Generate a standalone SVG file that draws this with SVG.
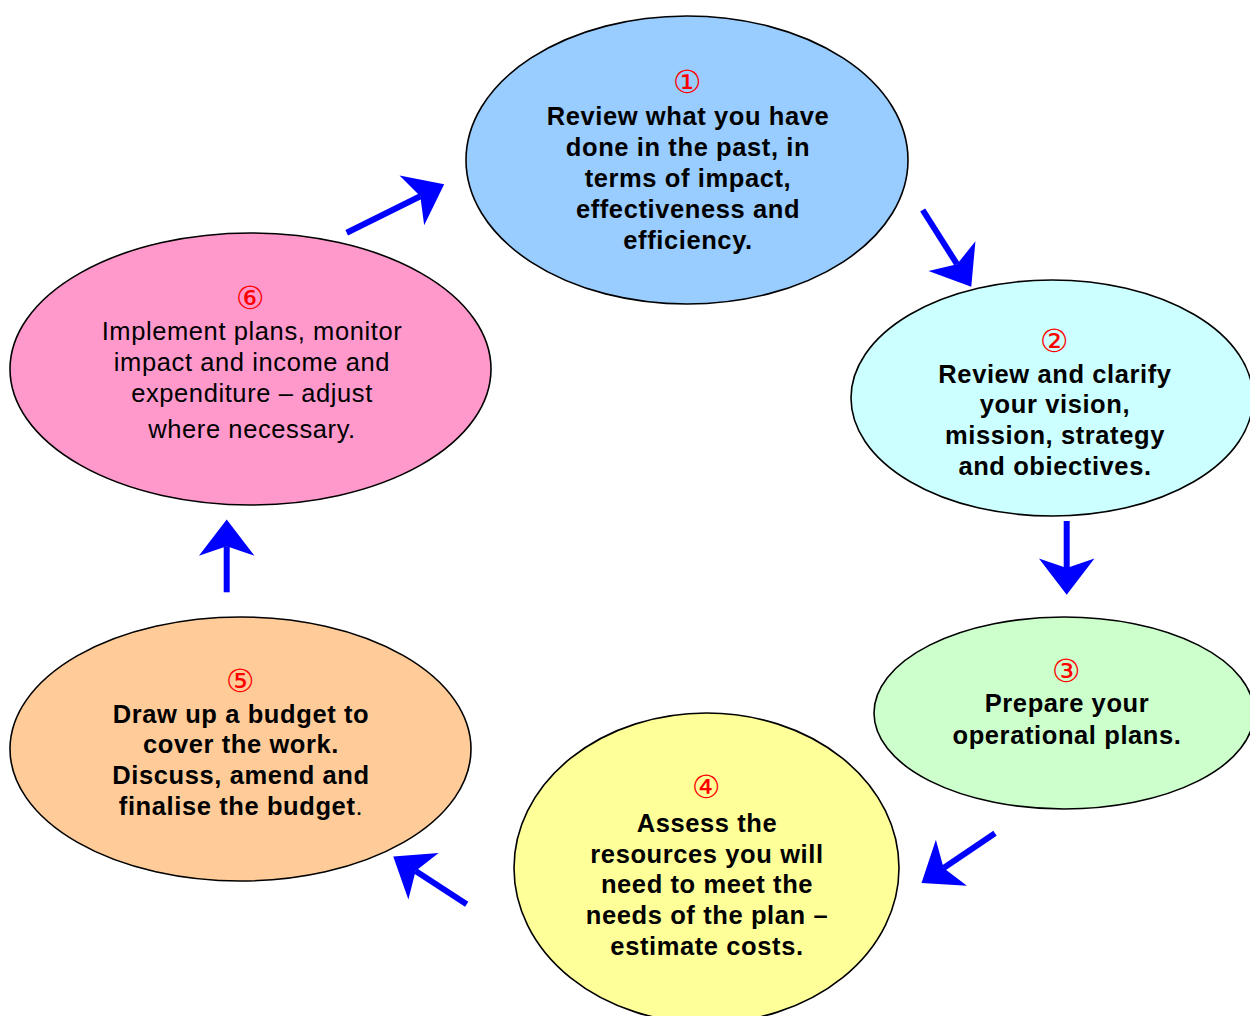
<svg xmlns="http://www.w3.org/2000/svg" width="1250" height="1016" viewBox="0 0 1250 1016">
<style>
.node ellipse{stroke:#000;stroke-width:1.6}
.t{font-family:"Liberation Sans",Arial,sans-serif;font-size:25.5px;letter-spacing:0.6px;text-anchor:middle;fill:#000}
.b{font-weight:bold}
.n{font-family:"DejaVu Sans",sans-serif;font-size:32px;fill:#f00;text-anchor:middle}
.arrow{stroke:#00f;stroke-width:6;fill:none;marker-end:url(#head)}
</style>
<defs>
<marker id="head" markerUnits="userSpaceOnUse" markerWidth="60" markerHeight="60" viewBox="-10 -27 36 54" refX="0" refY="0" orient="auto" overflow="visible">
<path d="M24,0 L-8.5,-25 L0,0 L-8.5,25 Z" fill="#00f"/>
</marker>
</defs>
<rect width="1250" height="1016" fill="#fff"/>
<g id="connectors">
<line class="arrow" x1="346.7" y1="232.7" x2="420.3" y2="196.2"/>
<line class="arrow" x1="922.7" y1="210" x2="957" y2="264.2"/>
<line class="arrow" x1="1066.7" y1="521" x2="1066.7" y2="568"/>
<line class="arrow" x1="995" y1="833.3" x2="943.6" y2="868"/>
<line class="arrow" x1="466.7" y1="904.3" x2="415.6" y2="871.1"/>
<line class="arrow" x1="226.7" y1="592.3" x2="226.7" y2="546.2"/>
</g>
<g id="node1" class="node">
<ellipse cx="687" cy="160" rx="221" ry="144" fill="#99CCFF"/>
<text class="n" x="687" y="93">①</text>
<text class="t b" x="688" y="125">Review what you have</text>
<text class="t b" x="688" y="156">done in the past, in</text>
<text class="t b" x="688" y="187">terms of impact,</text>
<text class="t b" x="688" y="218">effectiveness and</text>
<text class="t b" x="688" y="249">efficiency.</text>
</g>
<g id="node2" class="node">
<ellipse cx="1052" cy="398" rx="201" ry="118" fill="#CCFFFF"/>
<text class="n" x="1054" y="352">②</text>
<text class="t b" x="1055" y="383">Review and clarify</text>
<text class="t b" x="1055" y="413">your vision,</text>
<text class="t b" x="1055" y="444">mission, strategy</text>
<text class="t b" x="1055" y="475">and obiectives.</text>
</g>
<g id="node3" class="node">
<ellipse cx="1064" cy="713" rx="190" ry="96" fill="#CCFFCC"/>
<text class="n" x="1066" y="682">③</text>
<text class="t b" x="1067" y="712">Prepare your</text>
<text class="t b" x="1067" y="744">operational plans.</text>
</g>
<g id="node4" class="node">
<ellipse cx="706.5" cy="868" rx="192.5" ry="155" fill="#FFFF99"/>
<text class="n" x="706" y="798">④</text>
<text class="t b" x="707" y="832">Assess the</text>
<text class="t b" x="707" y="863">resources you will</text>
<text class="t b" x="707" y="893">need to meet the</text>
<text class="t b" x="707" y="924">needs of the plan –</text>
<text class="t b" x="707" y="955">estimate costs.</text>
</g>
<g id="node5" class="node">
<ellipse cx="240.5" cy="749" rx="230.5" ry="132" fill="#FFCC99"/>
<text class="n" x="240" y="692">⑤</text>
<text class="t b" x="241" y="723">Draw up a budget to</text>
<text class="t b" x="241" y="753">cover the work.</text>
<text class="t b" x="241" y="784">Discuss, amend and</text>
<text class="t" x="241" y="815"><tspan class="b">finalise the budget</tspan>.</text>
</g>
<g id="node6" class="node">
<ellipse cx="250.5" cy="369" rx="240.5" ry="136" fill="#FF99CC"/>
<text class="n" x="250" y="309">⑥</text>
<text class="t" x="252" y="340">Implement plans, monitor</text>
<text class="t" x="252" y="371">impact and income and</text>
<text class="t" x="252" y="402">expenditure – adjust</text>
<text class="t" x="252" y="438">where necessary.</text>
</g>
</svg>
